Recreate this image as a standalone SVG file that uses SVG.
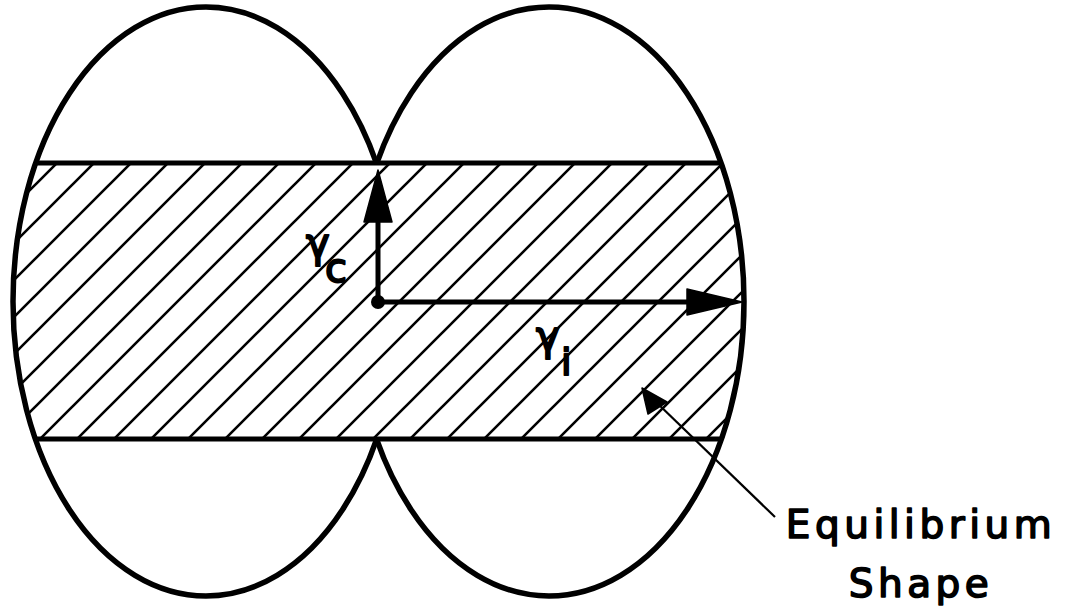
<svg xmlns="http://www.w3.org/2000/svg" width="1070" height="615" viewBox="0 0 1070 615">
<style>
.outline{fill:none;stroke:#000;stroke-width:5.5}
.band{stroke:#000;stroke-width:5}
.hl{stroke:#000;stroke-width:2.6;fill:none;stroke-linecap:round}
.lbl{font-family:"DejaVu Sans","Liberation Sans",sans-serif;fill:#000;stroke:#000;stroke-width:2;stroke-linejoin:round}
.cap{font-family:"DejaVu Sans","Liberation Sans",sans-serif;font-size:39px;letter-spacing:4.5px;fill:#000;text-anchor:middle;stroke:#000;stroke-width:1.6;stroke-linejoin:round}
.shaft{stroke:#000;stroke-width:5;fill:none}
.head{fill:#000;stroke:#000;stroke-width:1.5;stroke-linejoin:round}
</style>
<defs>
<pattern id="hatch" patternUnits="userSpaceOnUse" x="-2" y="0" width="37" height="37">
<path class="hl" d="M0,37 L37,0 M-4,4 L4,-4 M33,41 L41,33"/>
</pattern>
<clipPath id="both">
<ellipse cx="206" cy="301.5" rx="193" ry="294.5"/>
<ellipse cx="549" cy="301.5" rx="195" ry="294.5"/>
</clipPath>
<clipPath id="clipL">
<rect x="0" y="0" width="1070" height="163"/>
<rect x="0" y="439" width="1070" height="176"/>
<rect x="0" y="0" width="206" height="615"/>
</clipPath>
<clipPath id="clipR">
<rect x="0" y="0" width="1070" height="163"/>
<rect x="0" y="439" width="1070" height="176"/>
<rect x="549" y="0" width="521" height="615"/>
</clipPath>
</defs>
<rect width="1070" height="615" fill="#fff"/>
<g id="band">
<rect x="0" y="163" width="1070" height="276" fill="url(#hatch)" clip-path="url(#both)"/>
<line class="band" x1="35" y1="163" x2="721" y2="163"/>
<line class="band" x1="35" y1="439" x2="721" y2="439"/>
</g>
<g id="left-sphere">
<ellipse class="outline" cx="206" cy="301.5" rx="193" ry="294.5" clip-path="url(#clipL)"/>
</g>
<g id="right-sphere">
<ellipse class="outline" cx="549" cy="301.5" rx="195" ry="294.5" clip-path="url(#clipR)"/>
</g>
<g id="connectors">
<circle cx="378" cy="302" r="7" fill="#000"/>
<line class="shaft" x1="378" y1="302" x2="378" y2="215"/>
<polygon class="head" points="378,170 364,222 392,222"/>
<line class="shaft" x1="378" y1="302" x2="692" y2="302"/>
<polygon class="head" points="742,302 687,289 687,315"/>
<line x1="655" y1="401" x2="775" y2="517" stroke="#000" stroke-width="2.2"/>
<polygon class="head" points="642,388 648,414 667,402"/>
</g>
<g id="label-rc">
<text class="lbl" x="306" y="257" font-size="40">γ</text>
<text class="lbl" x="325" y="282" font-size="40">c</text>
</g>
<g id="label-ri">
<text class="lbl" x="536" y="350" font-size="40">γ</text>
<text class="lbl" x="561" y="375" font-size="38">i</text>
</g>
<g id="label-shape">
<text class="cap" x="921" y="538">Equilibrium</text>
<text class="cap" x="921" y="597">Shape</text>
</g>
</svg>
